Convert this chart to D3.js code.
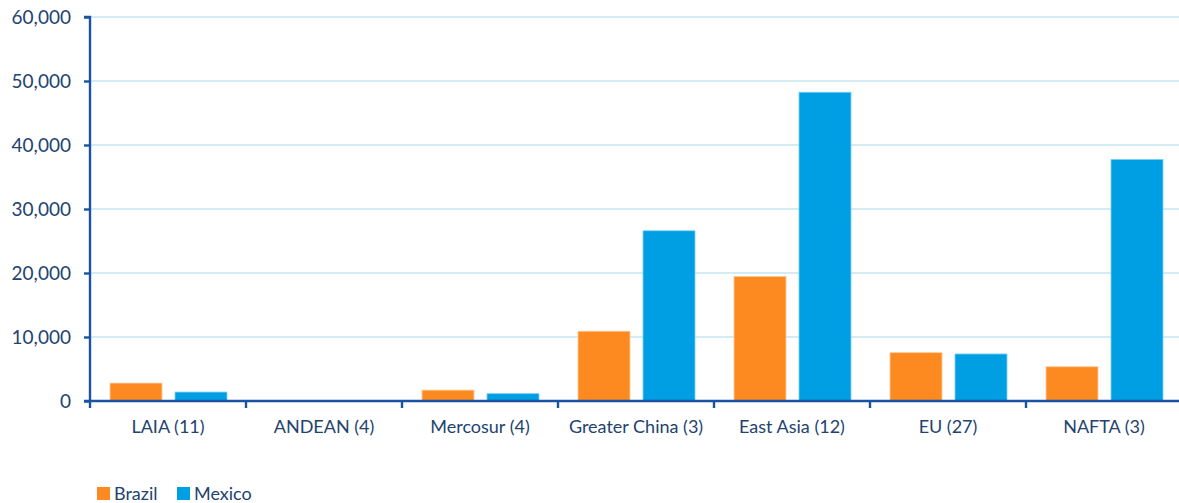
<!DOCTYPE html>
<html><head><meta charset="utf-8">
<script src="https://cdn.jsdelivr.net/npm/d3@7"></script>
<style>body{margin:0;background:#fff;}svg{display:block;}</style>
</head><body>
<script>
const categories = ["LAIA (11)","ANDEAN (4)","Mercosur (4)","Greater China (3)","East Asia (12)","EU (27)","NAFTA (3)"];
const seriesNames = ["Brazil","Mexico"];
const brazil = [2800, 0, 1700, 10900, 19450, 7550, 5350];
const mexico = [1400, 0, 1150, 26600, 48250, 7350, 37750];
const yTicks = [0,10000,20000,30000,40000,50000,60000];

const W=1179,H=503;
const colors={Brazil:"#FD8A20",Mexico:"#009FE3"};
const edge={Brazil:"#FFC898",Mexico:"#7FD0F2"};
const axisColor="#1A52A4", textColor="#23436F", gridColor="#C5E6F1";
const font="Lato, sans-serif";

const svg=d3.select("body").append("svg").attr("width",W).attr("height",H);
const x0=d3.scaleBand().domain(categories).range([90,1182]).paddingInner(0).paddingOuter(0);
const x1=d3.scaleBand().domain(seriesNames).range([20,137]).paddingInner(0.2).paddingOuter(0);
const y=d3.scaleLinear().domain([0,60000]).range([401,17]);

// gridlines
svg.append("g").selectAll("line").data(yTicks.filter(d=>d>0)).join("line")
  .attr("x1",90).attr("x2",W).attr("y1",d=>y(d)).attr("y2",d=>y(d))
  .attr("stroke",gridColor).attr("stroke-width",1.3);

// bars
const data=categories.map((c,i)=>({c,vals:[{s:"Brazil",v:brazil[i]},{s:"Mexico",v:mexico[i]}]}));
const g=svg.append("g").selectAll("g").data(data).join("g").attr("transform",d=>`translate(${x0(d.c)},0)`);
g.selectAll("rect").data(d=>d.vals.filter(e=>e.v>0)).join("rect")
  .attr("x",d=>x1(d.s)).attr("width",x1.bandwidth())
  .attr("y",d=>y(d.v)).attr("height",d=>y(0)-y(d.v))
  .attr("fill",d=>colors[d.s]).attr("stroke",d=>edge[d.s]).attr("stroke-width",0.8);

// y axis
const ya=svg.append("g").attr("transform","translate(90,0)")
  .call(d3.axisLeft(y).tickValues(yTicks).tickFormat(d3.format(",")).tickSize(6).tickPadding(13));
ya.select(".domain").attr("stroke",axisColor).attr("stroke-width",2.4).attr("d","M-6,17H0V401");
ya.selectAll(".tick line").attr("stroke",axisColor).attr("stroke-width",2.4);
ya.selectAll(".tick text").attr("fill",textColor).style("font-family",font).style("font-size","19px");

// x axis
const xa=svg.append("g").attr("transform","translate(0,401)")
  .call(d3.axisBottom(x0).tickSize(0).tickPadding(19));
xa.select(".domain").attr("stroke",axisColor).attr("stroke-width",2.4).attr("d","M84,0H1182");
xa.selectAll(".tick text").attr("fill",textColor).style("font-family",font).style("font-size","18px");
const bounds=categories.map(c=>x0(c)).concat([x0.range()[1]]);
svg.append("g").selectAll("line").data(bounds).join("line")
  .attr("x1",d=>d).attr("x2",d=>d).attr("y1",401).attr("y2",408)
  .attr("stroke",axisColor).attr("stroke-width",2.4);

// legend
const lg=svg.append("g").attr("transform","translate(97,487)");
const li=lg.selectAll("g").data(seriesNames).join("g").attr("transform",(d,i)=>`translate(${i*80},0)`);
li.append("rect").attr("width",13).attr("height",13).attr("fill",d=>colors[d]);
li.append("text").attr("x",17).attr("y",13).text(d=>d).attr("fill",textColor)
  .style("font-family",font).style("font-size","18px");
</script>
</body></html>
